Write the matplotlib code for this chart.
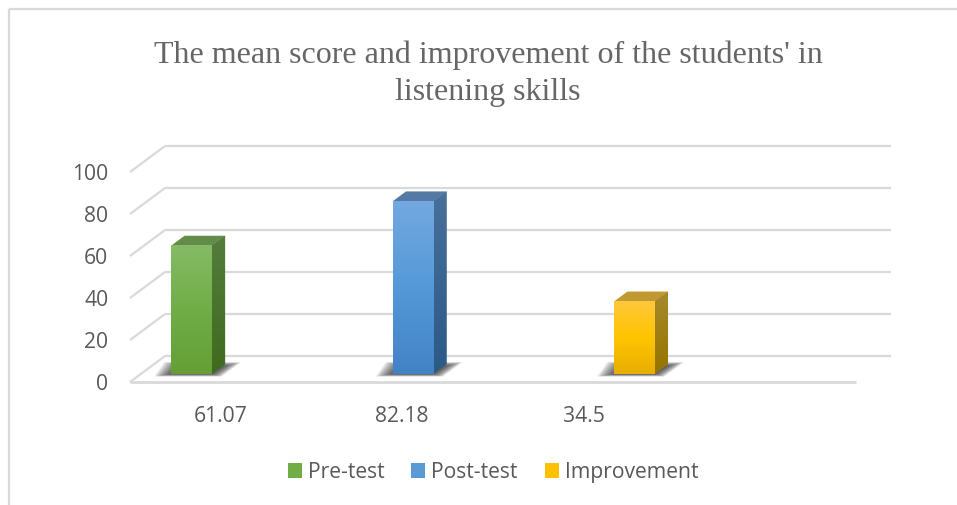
#!/usr/bin/env python3
"""Pseudo-3D clustered column chart, listening skill scores."""
import matplotlib
matplotlib.use("Agg")
import matplotlib.pyplot as plt
import numpy as np
from matplotlib.colors import LinearSegmentedColormap
from matplotlib.lines import Line2D
from matplotlib.patches import Patch, Polygon

TITLE = "The mean score and improvement of the students' in\nlistening skills"
categories = ["61.07", "82.18", "34.5", ""]
series = ["Pre-test", "Post-test", "Improvement"]
values = [61.07, 82.18, 34.5]
yticks = [0, 20, 40, 60, 80, 100]

FRONT = ["#86BB66", "#5B9BD5", "#FFC000"]
FRONT_STOPS = [("#86BB66", "#70AD47", "#659F35"),
               ("#73A8E0", "#5599D8", "#4283C5"),
               ("#FFC83A", "#FFC400", "#E8AE00")]
SIDE = [("#557C3C", "#3F6B1F"), ("#47709B", "#2B5A85"), ("#A68A2E", "#967400")]
TOP = ["#628C49", "#5579A5", "#C09A30"]
GRID, TEXT = "#D9D9D9", "#595959"

W, H = 957, 505
L, R, Y0, Y100 = 130, 856, 382, 172       # front plane of the plot, pixels
PX_X = (R - L) / 4                        # pixels per category
PX_Y = (Y0 - Y100) / 100                  # pixels per score point


def xu(px):
    return px / PX_X


def yu(px):
    return px / PX_Y


plt.rcParams.update({"font.family": ["Open Sans", "DejaVu Sans"],
                     "lines.solid_capstyle": "butt"})
fig = plt.figure(figsize=(W / 100, H / 100), dpi=100)
ax = fig.add_axes([L / W, 1 - Y0 / H, (R - L) / W, (Y0 - Y100) / H])
ax.patch.set_visible(False)

# floor and back wall
back_x, back_y = xu(35), yu(26)
for v in yticks:
    ax.plot([-0.5, -0.5 + back_x], [v, v + back_y], color=GRID, lw=1.6,
            clip_on=False, zorder=1)
    ax.plot([-0.5 + back_x, 3.5 + back_x], [v + back_y, v + back_y], color=GRID,
            lw=1.6, clip_on=False, zorder=1)
ax.plot([-0.5, 3.5], [0, 0], color=GRID, lw=2.0, clip_on=False, zorder=1)

# bars
w = xu(40.5)
inset_x, inset_y = xu(10.5), yu(8)
dep_x, dep_y = xu(13.5), yu(10)
for i, v in enumerate(values):
    x0 = i + (i - 1) * 0.22 + inset_x - w / 2
    x1 = x0 + w
    base, top = inset_y, inset_y + v

    # soft shadow on the floor, stacked polygons
    for k in range(30):
        s = k / 29
        grow = xu(17) * (1 - s)
        drop = yu(2.5) * (1 - s)
        sh = [(x0 - grow, base - drop),
              (x1 + grow * 0.6, base - drop),
              (x1 + xu(13) + grow, base + yu(8) + drop * 1.6),
              (x0 + xu(10) - grow, base + yu(8) + drop * 1.6)]
        ax.add_patch(Polygon(sh, fc="#333333", ec="none", alpha=0.045,
                             clip_on=False, zorder=2))

    # side face, vertical gradient clipped to its parallelogram
    side = Polygon([(x1, base), (x1 + dep_x, base + dep_y), (x1 + dep_x, top + dep_y),
                    (x1, top)], fc=SIDE[i][1], ec="none", clip_on=False, zorder=3)
    ax.add_patch(side)
    cm = LinearSegmentedColormap.from_list("s", SIDE[i][::-1])
    im = ax.imshow(np.linspace(0, 1, 64)[:, None], cmap=cm, origin="lower", aspect="auto",
                   extent=(x1, x1 + dep_x, base, top + dep_y), zorder=3.1)
    im.set_clip_path(side)

    # top face
    ax.add_patch(Polygon([(x0, top), (x1, top), (x1 + dep_x, top + dep_y),
                          (x0 + dep_x, top + dep_y)], fc=TOP[i], ec="none",
                         clip_on=False, zorder=3))

    # front face
    ax.bar(x0, v, width=w, bottom=base, align="edge", color=FRONT[i], zorder=4)
    cm = LinearSegmentedColormap.from_list("f", FRONT_STOPS[i][::-1])
    ax.imshow(np.linspace(0, 1, 64)[:, None], cmap=cm, origin="lower", aspect="auto",
              extent=(x0, x1, base, top), zorder=4.1, clip_on=False)

ax.set_xlim(-0.5, 3.5)
ax.set_ylim(0, 100)
ax.set_yticks(yticks)
ax.set_xticks(range(len(categories)))
ax.set_xticklabels(categories)
ax.tick_params(axis="both", length=0, labelsize=15.2, labelcolor=TEXT)
ax.tick_params(axis="y", pad=15.5)
ax.tick_params(axis="x", pad=17.5)
for sp in ax.spines.values():
    sp.set_visible(False)

fig.text(488 / W, 1 - 73.5 / H, TITLE, ha="center", va="center", fontsize=23,
         family="Liberation Serif", color="#666666", linespacing=1.36)

handles = [Patch(fc=c, ec="none") for c in ("#70AD47", "#5B9BD5", "#FFC000")]
fig.legend(handles, series, loc="center", bbox_to_anchor=(493 / W, 1 - 472.5 / H), ncol=3,
           frameon=False, fontsize=15.2, labelcolor=TEXT, handlelength=0.66,
           handleheight=0.66, handletextpad=0.28, columnspacing=1.28)

# chart frame, cropped at right and bottom
fig.add_artist(Line2D([9 / W, 9 / W], [0, 1 - 8.5 / H], color=GRID, lw=1.6))
fig.add_artist(Line2D([9 / W, 1], [1 - 8.5 / H, 1 - 8.5 / H], color=GRID, lw=1.6))

fig.savefig("out.png", dpi=100)
